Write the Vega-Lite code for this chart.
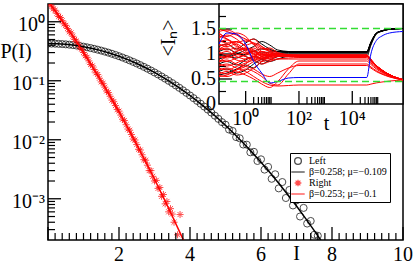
{
"$schema": "https://vega.github.io/schema/vega-lite/v6.json",
"width": 355, "height": 236,
"autosize": {"type": "none"},
"padding": {"left": 48, "top": 4, "right": 12, "bottom": 23},
"config": {"font": "Liberation Serif", "view": {"stroke": "black", "strokeWidth": 1.5}, "axis": {"grid": false, "domain": false}},
"datasets": {
"xM": [{"v":0},{"v":2},{"v":4},{"v":6},{"v":8},{"v":10}],
"xm": [{"v":0.2},{"v":0.4},{"v":0.6},{"v":0.8},{"v":1},{"v":1.2},{"v":1.4},{"v":1.6},{"v":1.8},{"v":2.2},{"v":2.4},{"v":2.6},{"v":2.8},{"v":3},{"v":3.2},{"v":3.4},{"v":3.6},{"v":3.8},{"v":4.2},{"v":4.4},{"v":4.6},{"v":4.8},{"v":5},{"v":5.2},{"v":5.4},{"v":5.6},{"v":5.8},{"v":6.2},{"v":6.4},{"v":6.6},{"v":6.8},{"v":7},{"v":7.2},{"v":7.4},{"v":7.6},{"v":7.8},{"v":8.2},{"v":8.4},{"v":8.6},{"v":8.8},{"v":9},{"v":9.2},{"v":9.4},{"v":9.6},{"v":9.8}],
"yM": [{"v":0.001},{"v":0.01},{"v":0.1},{"v":1}],
"ym": [{"v":0.0003},{"v":0.0004},{"v":0.0005},{"v":0.0006},{"v":0.0007},{"v":0.0008},{"v":0.0009},{"v":0.002},{"v":0.003},{"v":0.004},{"v":0.005},{"v":0.006},{"v":0.007},{"v":0.008},{"v":0.009},{"v":0.02},{"v":0.03},{"v":0.04},{"v":0.05},{"v":0.06},{"v":0.07},{"v":0.08},{"v":0.09},{"v":0.2},{"v":0.3},{"v":0.4},{"v":0.5},{"v":0.6},{"v":0.7},{"v":0.8},{"v":0.9}],
"xl": [{"v":2,"l":"2"},{"v":4,"l":"4"},{"v":6,"l":"6"},{"v":8,"l":"8"},{"v":10,"l":"10"}],
"yl": [{"v":1,"l":"10⁰"},{"v":0.1,"l":"10⁻¹"},{"v":0.01,"l":"10⁻²"},{"v":0.001,"l":"10⁻³"}],
"tM": [{"v":1},{"v":100},{"v":10000}],
"tm": [{"v":2},{"v":3},{"v":4},{"v":5},{"v":6},{"v":7},{"v":8},{"v":9},{"v":200},{"v":300},{"v":400},{"v":500},{"v":600},{"v":700},{"v":800},{"v":900},{"v":20000},{"v":30000},{"v":40000},{"v":50000},{"v":60000},{"v":70000},{"v":80000},{"v":90000}],
"vM": [{"v":0.5},{"v":1},{"v":1.5}],
"vm": [{"v":0.25},{"v":0.75},{"v":1.25},{"v":1.75}],
"tl": [{"v":1,"l":"10⁰"},{"v":100,"l":"10²"},{"v":10000,"l":"10⁴"}],
"vl": [{"v":0,"l":"0"},{"v":0.5,"l":"0.5"},{"v":1,"l":"1"},{"v":1.5,"l":"1.5"}],
"pts": [
{"s":"Left","I":0,"P":0.4266},{"s":"Left","I":0.1,"P":0.4261},{"s":"Left","I":0.2,"P":0.4247},{"s":"Left","I":0.3,"P":0.4222},{"s":"Left","I":0.4,"P":0.4188},{"s":"Left","I":0.5,"P":0.4143},{"s":"Left","I":0.6,"P":0.409},{"s":"Left","I":0.7,"P":0.4026},{"s":"Left","I":0.8,"P":0.3954},{"s":"Left","I":0.9,"P":0.3873},{"s":"Left","I":1,"P":0.3785},{"s":"Left","I":1.1,"P":0.3688},{"s":"Left","I":1.2,"P":0.3586},{"s":"Left","I":1.3,"P":0.3477},{"s":"Left","I":1.4,"P":0.3363},{"s":"Left","I":1.5,"P":0.3244},{"s":"Left","I":1.6,"P":0.3121},{"s":"Left","I":1.7,"P":0.2996},{"s":"Left","I":1.8,"P":0.2868},{"s":"Left","I":1.9,"P":0.2738},{"s":"Left","I":2,"P":0.2607},{"s":"Left","I":2.1,"P":0.2476},{"s":"Left","I":2.2,"P":0.2346},{"s":"Left","I":2.3,"P":0.2216},{"s":"Left","I":2.4,"P":0.2088},{"s":"Left","I":2.5,"P":0.1963},{"s":"Left","I":2.6,"P":0.184},{"s":"Left","I":2.7,"P":0.172},{"s":"Left","I":2.8,"P":0.1604},{"s":"Left","I":2.9,"P":0.1492},{"s":"Left","I":3,"P":0.1384},{"s":"Left","I":3.1,"P":0.128},{"s":"Left","I":3.2,"P":0.1181},{"s":"Left","I":3.3,"P":0.1087},{"s":"Left","I":3.4,"P":0.0997},{"s":"Left","I":3.5,"P":0.0913},{"s":"Left","I":3.6,"P":0.0833},{"s":"Left","I":3.7,"P":0.0759},{"s":"Left","I":3.8,"P":0.0689},{"s":"Left","I":3.9,"P":0.0624},{"s":"Left","I":4,"P":0.0563},{"s":"Left","I":4.1,"P":0.0507},{"s":"Left","I":4.2,"P":0.0456},{"s":"Left","I":4.3,"P":0.0408},{"s":"Left","I":4.4,"P":0.0365},{"s":"Left","I":4.5,"P":0.0325},{"s":"Left","I":4.6,"P":0.0289},{"s":"Left","I":4.7,"P":0.0256},{"s":"Left","I":4.8,"P":0.0226},{"s":"Left","I":4.9,"P":0.0199},{"s":"Left","I":5,"P":0.018},{"s":"Left","I":5.1,"P":0.0149},{"s":"Left","I":5.2,"P":0.0141},{"s":"Left","I":5.3,"P":0.0111},{"s":"Left","I":5.4,"P":0.01059},{"s":"Left","I":5.5,"P":0.0083},{"s":"Left","I":5.6,"P":0.00825},{"s":"Left","I":5.7,"P":0.00613},{"s":"Left","I":5.8,"P":0.00624},{"s":"Left","I":5.9,"P":0.00437},{"s":"Left","I":6,"P":0.00466},{"s":"Left","I":6.1,"P":0.00312},{"s":"Left","I":6.2,"P":0.00347},{"s":"Left","I":6.3,"P":0.00218},{"s":"Left","I":6.4,"P":0.0026},{"s":"Left","I":6.5,"P":0.0015},{"s":"Left","I":6.6,"P":0.00192},{"s":"Left","I":6.7,"P":0.00103},{"s":"Left","I":6.8,"P":0.00141},{"s":"Left","I":6.9,"P":0.00077},{"s":"Left","I":7,"P":0.00094},{"s":"Left","I":7.1,"P":0.0005},{"s":"Left","I":7.2,"P":0.0007},{"s":"Left","I":7.3,"P":0.00038},{"s":"Left","I":7.4,"P":0.00042},{"s":"Left","I":7.5,"P":0.000245},{"s":"Left","I":7.6,"P":0.000236},
{"s":"Right","I":0.05,"P":2.034},{"s":"Right","I":0.1,"P":1.852},{"s":"Right","I":0.15,"P":1.652},{"s":"Right","I":0.2,"P":1.564},{"s":"Right","I":0.25,"P":1.393},{"s":"Right","I":0.3,"P":1.227},{"s":"Right","I":0.35,"P":1.181},{"s":"Right","I":0.4,"P":1.04},{"s":"Right","I":0.45,"P":0.923},{"s":"Right","I":0.5,"P":0.869},{"s":"Right","I":0.55,"P":0.771},{"s":"Right","I":0.6,"P":0.676},{"s":"Right","I":0.65,"P":0.648},{"s":"Right","I":0.7,"P":0.568},{"s":"Right","I":0.75,"P":0.502},{"s":"Right","I":0.8,"P":0.47},{"s":"Right","I":0.85,"P":0.415},{"s":"Right","I":0.9,"P":0.362},{"s":"Right","I":0.95,"P":0.3455},{"s":"Right","I":1,"P":0.3012},{"s":"Right","I":1.05,"P":0.2649},{"s":"Right","I":1.1,"P":0.2497},{"s":"Right","I":1.15,"P":0.2172},{"s":"Right","I":1.2,"P":0.1885},{"s":"Right","I":1.25,"P":0.179},{"s":"Right","I":1.3,"P":0.1553},{"s":"Right","I":1.35,"P":0.136},{"s":"Right","I":1.4,"P":0.1275},{"s":"Right","I":1.45,"P":0.1104},{"s":"Right","I":1.5,"P":0.0954},{"s":"Right","I":1.55,"P":0.0902},{"s":"Right","I":1.6,"P":0.0779},{"s":"Right","I":1.65,"P":0.0671},{"s":"Right","I":1.7,"P":0.0633},{"s":"Right","I":1.75,"P":0.0546},{"s":"Right","I":1.8,"P":0.047},{"s":"Right","I":1.85,"P":0.0442},{"s":"Right","I":1.9,"P":0.038},{"s":"Right","I":1.95,"P":0.0326},{"s":"Right","I":2,"P":0.0306},{"s":"Right","I":2.05,"P":0.0262},{"s":"Right","I":2.1,"P":0.0223},{"s":"Right","I":2.15,"P":0.0212},{"s":"Right","I":2.2,"P":0.018},{"s":"Right","I":2.25,"P":0.0152},{"s":"Right","I":2.3,"P":0.0145},{"s":"Right","I":2.35,"P":0.01226},{"s":"Right","I":2.4,"P":0.0103},{"s":"Right","I":2.45,"P":0.0099},{"s":"Right","I":2.5,"P":0.00829},{"s":"Right","I":2.55,"P":0.0069},{"s":"Right","I":2.6,"P":0.0067},{"s":"Right","I":2.65,"P":0.00557},{"s":"Right","I":2.7,"P":0.0046},{"s":"Right","I":2.75,"P":0.0045},{"s":"Right","I":2.8,"P":0.00371},{"s":"Right","I":2.85,"P":0.003},{"s":"Right","I":2.9,"P":0.003},{"s":"Right","I":2.95,"P":0.0024},{"s":"Right","I":3,"P":0.002},{"s":"Right","I":3.05,"P":0.00205},{"s":"Right","I":3.1,"P":0.0015},{"s":"Right","I":3.15,"P":0.00155},{"s":"Right","I":3.2,"P":0.0011},{"s":"Right","I":3.25,"P":0.00118},{"s":"Right","I":3.3,"P":0.00082},{"s":"Right","I":3.35,"P":0.0009},{"s":"Right","I":3.4,"P":0.0006},{"s":"Right","I":3.45,"P":0.00068},{"s":"Right","I":3.5,"P":0.00055},{"s":"Right","I":3.55,"P":0.0004},{"s":"Right","I":3.65,"P":0.000245},{"s":"Right","I":3.72,"P":0.00054}
],
"fits": [
{"s":"β=0.258; μ=−0.109","I":0,"P":0.4266},{"s":"β=0.258; μ=−0.109","I":0.25,"P":0.4236},{"s":"β=0.258; μ=−0.109","I":0.5,"P":0.4143},{"s":"β=0.258; μ=−0.109","I":0.75,"P":0.3992},{"s":"β=0.258; μ=−0.109","I":1,"P":0.3785},{"s":"β=0.258; μ=−0.109","I":1.25,"P":0.3532},{"s":"β=0.258; μ=−0.109","I":1.5,"P":0.3244},{"s":"β=0.258; μ=−0.109","I":1.75,"P":0.2932},{"s":"β=0.258; μ=−0.109","I":2,"P":0.2607},{"s":"β=0.258; μ=−0.109","I":2.25,"P":0.2281},{"s":"β=0.258; μ=−0.109","I":2.5,"P":0.1963},{"s":"β=0.258; μ=−0.109","I":2.75,"P":0.1662},{"s":"β=0.258; μ=−0.109","I":3,"P":0.1384},{"s":"β=0.258; μ=−0.109","I":3.25,"P":0.1133},{"s":"β=0.258; μ=−0.109","I":3.5,"P":0.0913},{"s":"β=0.258; μ=−0.109","I":3.75,"P":0.0723},{"s":"β=0.258; μ=−0.109","I":4,"P":0.0563},{"s":"β=0.258; μ=−0.109","I":4.25,"P":0.04313},{"s":"β=0.258; μ=−0.109","I":4.5,"P":0.0325},{"s":"β=0.258; μ=−0.109","I":4.75,"P":0.02406},{"s":"β=0.258; μ=−0.109","I":5,"P":0.01752},{"s":"β=0.258; μ=−0.109","I":5.25,"P":0.01255},{"s":"β=0.258; μ=−0.109","I":5.5,"P":0.00883},{"s":"β=0.258; μ=−0.109","I":5.75,"P":0.00611},{"s":"β=0.258; μ=−0.109","I":6,"P":0.00416},{"s":"β=0.258; μ=−0.109","I":6.25,"P":0.002782},{"s":"β=0.258; μ=−0.109","I":6.5,"P":0.00183},{"s":"β=0.258; μ=−0.109","I":6.75,"P":0.001182},{"s":"β=0.258; μ=−0.109","I":7,"P":0.000752},{"s":"β=0.258; μ=−0.109","I":7.25,"P":0.000469},{"s":"β=0.258; μ=−0.109","I":7.5,"P":0.000288},{"s":"β=0.258; μ=−0.109","I":7.75,"P":0.000174},
{"s":"β=0.253; μ=−0.1","I":0,"P":2.232},{"s":"β=0.253; μ=−0.1","I":0.25,"P":1.393},{"s":"β=0.253; μ=−0.1","I":0.5,"P":0.852},{"s":"β=0.253; μ=−0.1","I":0.75,"P":0.512},{"s":"β=0.253; μ=−0.1","I":1,"P":0.3012},{"s":"β=0.253; μ=−0.1","I":1.25,"P":0.1738},{"s":"β=0.253; μ=−0.1","I":1.5,"P":0.0983},{"s":"β=0.253; μ=−0.1","I":1.75,"P":0.0546},{"s":"β=0.253; μ=−0.1","I":2,"P":0.0297},{"s":"β=0.253; μ=−0.1","I":2.25,"P":0.01585},{"s":"β=0.253; μ=−0.1","I":2.5,"P":0.00829},{"s":"β=0.253; μ=−0.1","I":2.75,"P":0.00425},{"s":"β=0.253; μ=−0.1","I":3,"P":0.00214},{"s":"β=0.253; μ=−0.1","I":3.25,"P":0.001055},{"s":"β=0.253; μ=−0.1","I":3.5,"P":0.00051},{"s":"β=0.253; μ=−0.1","I":3.75,"P":0.000242},{"s":"β=0.253; μ=−0.1","I":3.85,"P":0.000179}
],
"grn": [{"v":1.51},{"v":0.45}],
"blu": [
{"i":"u1","t":0.1,"v":1.2},{"i":"u1","t":0.2,"v":1.42},{"i":"u1","t":0.45,"v":1.4},{"i":"u1","t":1,"v":1.2},{"i":"u1","t":2,"v":0.85},{"i":"u1","t":4,"v":0.62},{"i":"u1","t":8,"v":0.42},{"i":"u1","t":16,"v":0.45},{"i":"u1","t":40,"v":0.52},{"i":"u1","t":100,"v":0.53},{"i":"u1","t":35000,"v":0.53},{"i":"u1","t":50000,"v":1.0},{"i":"u1","t":80000,"v":1.27},{"i":"u1","t":130000,"v":1.36},{"i":"u1","t":250000,"v":1.42},{"i":"u1","t":790000,"v":1.45}
],
"blk": [
{"i":"b1","t":0.1,"v":1.05},{"i":"b1","t":0.2,"v":1.1},{"i":"b1","t":0.45,"v":1.02},{"i":"b1","t":1,"v":0.98},{"i":"b1","t":2,"v":1.05},{"i":"b1","t":4,"v":1.02},{"i":"b1","t":8,"v":1.04},{"i":"b1","t":16,"v":1.05},{"i":"b1","t":40,"v":1.05},{"i":"b1","t":100,"v":1.05},{"i":"b1","t":35000,"v":1.05},{"i":"b1","t":50000,"v":1.234},{"i":"b1","t":80000,"v":1.418},{"i":"b1","t":130000,"v":1.464},{"i":"b1","t":250000,"v":1.496},{"i":"b1","t":790000,"v":1.51},
{"i":"b2","t":0.1,"v":0.98},{"i":"b2","t":0.2,"v":0.95},{"i":"b2","t":0.45,"v":1.0},{"i":"b2","t":1,"v":1.08},{"i":"b2","t":2,"v":1.15},{"i":"b2","t":4,"v":1.25},{"i":"b2","t":8,"v":1.18},{"i":"b2","t":16,"v":1.08},{"i":"b2","t":40,"v":1.05},{"i":"b2","t":100,"v":1.04},{"i":"b2","t":35000,"v":1.04},{"i":"b2","t":50000,"v":1.228},{"i":"b2","t":80000,"v":1.416},{"i":"b2","t":130000,"v":1.463},{"i":"b2","t":250000,"v":1.496},{"i":"b2","t":790000,"v":1.51},
{"i":"b3","t":0.1,"v":0.65},{"i":"b3","t":0.2,"v":0.7},{"i":"b3","t":0.45,"v":0.62},{"i":"b3","t":1,"v":0.68},{"i":"b3","t":2,"v":0.8},{"i":"b3","t":4,"v":0.9},{"i":"b3","t":8,"v":0.98},{"i":"b3","t":16,"v":1.02},{"i":"b3","t":40,"v":1.03},{"i":"b3","t":100,"v":1.03},{"i":"b3","t":35000,"v":1.03},{"i":"b3","t":50000,"v":1.222},{"i":"b3","t":80000,"v":1.414},{"i":"b3","t":130000,"v":1.462},{"i":"b3","t":250000,"v":1.496},{"i":"b3","t":790000,"v":1.51},
{"i":"b4","t":0.1,"v":0.58},{"i":"b4","t":0.2,"v":0.62},{"i":"b4","t":0.45,"v":0.7},{"i":"b4","t":1,"v":0.78},{"i":"b4","t":2,"v":0.72},{"i":"b4","t":4,"v":0.85},{"i":"b4","t":8,"v":0.95},{"i":"b4","t":16,"v":1.0},{"i":"b4","t":40,"v":1.02},{"i":"b4","t":100,"v":1.02},{"i":"b4","t":35000,"v":1.02},{"i":"b4","t":50000,"v":1.216},{"i":"b4","t":80000,"v":1.412},{"i":"b4","t":130000,"v":1.461},{"i":"b4","t":250000,"v":1.495},{"i":"b4","t":790000,"v":1.51},
{"i":"b5","t":0.1,"v":1.15},{"i":"b5","t":0.2,"v":1.2},{"i":"b5","t":0.45,"v":1.1},{"i":"b5","t":1,"v":1.22},{"i":"b5","t":2,"v":1.3},{"i":"b5","t":4,"v":1.2},{"i":"b5","t":8,"v":1.1},{"i":"b5","t":16,"v":1.05},{"i":"b5","t":40,"v":1.04},{"i":"b5","t":100,"v":1.04},{"i":"b5","t":35000,"v":1.04},{"i":"b5","t":50000,"v":1.228},{"i":"b5","t":80000,"v":1.416},{"i":"b5","t":130000,"v":1.463},{"i":"b5","t":250000,"v":1.496},{"i":"b5","t":790000,"v":1.51},
{"i":"b6","t":0.1,"v":0.8},{"i":"b6","t":0.2,"v":0.85},{"i":"b6","t":0.45,"v":0.78},{"i":"b6","t":1,"v":0.88},{"i":"b6","t":2,"v":0.95},{"i":"b6","t":4,"v":0.9},{"i":"b6","t":8,"v":0.85},{"i":"b6","t":16,"v":0.9},{"i":"b6","t":40,"v":0.95},{"i":"b6","t":100,"v":0.95},{"i":"b6","t":35000,"v":0.95},{"i":"b6","t":50000,"v":1.174},{"i":"b6","t":80000,"v":1.398},{"i":"b6","t":130000,"v":1.454},{"i":"b6","t":250000,"v":1.493},{"i":"b6","t":790000,"v":1.51},
{"i":"b7","t":0.1,"v":0.9},{"i":"b7","t":0.2,"v":0.95},{"i":"b7","t":0.45,"v":1.02},{"i":"b7","t":1,"v":0.95},{"i":"b7","t":2,"v":0.88},{"i":"b7","t":4,"v":0.8},{"i":"b7","t":8,"v":0.88},{"i":"b7","t":16,"v":0.95},{"i":"b7","t":40,"v":1.0},{"i":"b7","t":100,"v":1.0},{"i":"b7","t":35000,"v":1.0},{"i":"b7","t":50000,"v":1.204},{"i":"b7","t":80000,"v":1.408},{"i":"b7","t":130000,"v":1.459},{"i":"b7","t":250000,"v":1.495},{"i":"b7","t":790000,"v":1.51},
{"i":"b8","t":0.1,"v":1.0},{"i":"b8","t":0.2,"v":0.96},{"i":"b8","t":0.45,"v":0.92},{"i":"b8","t":1,"v":1.0},{"i":"b8","t":2,"v":1.06},{"i":"b8","t":4,"v":1.1},{"i":"b8","t":8,"v":1.08},{"i":"b8","t":16,"v":1.05},{"i":"b8","t":40,"v":1.05},{"i":"b8","t":100,"v":1.05},{"i":"b8","t":35000,"v":1.05},{"i":"b8","t":50000,"v":1.234},{"i":"b8","t":80000,"v":1.418},{"i":"b8","t":130000,"v":1.464},{"i":"b8","t":250000,"v":1.496},{"i":"b8","t":790000,"v":1.51}
],
"red": [
{"i":"r1","t":0.1,"v":1.5},{"i":"r1","t":0.2,"v":1.45},{"i":"r1","t":0.45,"v":1.38},{"i":"r1","t":1,"v":1.3},{"i":"r1","t":2,"v":1.22},{"i":"r1","t":4,"v":1.12},{"i":"r1","t":8,"v":1.05},{"i":"r1","t":16,"v":1.0},{"i":"r1","t":40,"v":0.98},{"i":"r1","t":100,"v":0.97},{"i":"r1","t":35000,"v":0.97},{"i":"r1","t":50000,"v":0.882},{"i":"r1","t":80000,"v":0.764},{"i":"r1","t":130000,"v":0.676},{"i":"r1","t":250000,"v":0.583},{"i":"r1","t":790000,"v":0.485},
{"i":"r2","t":0.1,"v":1.45},{"i":"r2","t":0.2,"v":1.48},{"i":"r2","t":0.45,"v":1.4},{"i":"r2","t":1,"v":1.25},{"i":"r2","t":2,"v":1.3},{"i":"r2","t":4,"v":1.15},{"i":"r2","t":8,"v":1.08},{"i":"r2","t":16,"v":1.02},{"i":"r2","t":40,"v":0.98},{"i":"r2","t":100,"v":0.97},{"i":"r2","t":35000,"v":0.97},{"i":"r2","t":50000,"v":0.882},{"i":"r2","t":80000,"v":0.764},{"i":"r2","t":130000,"v":0.676},{"i":"r2","t":250000,"v":0.583},{"i":"r2","t":790000,"v":0.485},
{"i":"r3","t":0.1,"v":1.4},{"i":"r3","t":0.2,"v":1.35},{"i":"r3","t":0.45,"v":1.42},{"i":"r3","t":1,"v":1.35},{"i":"r3","t":2,"v":1.18},{"i":"r3","t":4,"v":1.05},{"i":"r3","t":8,"v":0.98},{"i":"r3","t":16,"v":0.99},{"i":"r3","t":40,"v":0.97},{"i":"r3","t":100,"v":0.97},{"i":"r3","t":35000,"v":0.97},{"i":"r3","t":50000,"v":0.882},{"i":"r3","t":80000,"v":0.764},{"i":"r3","t":130000,"v":0.676},{"i":"r3","t":250000,"v":0.583},{"i":"r3","t":790000,"v":0.485},
{"i":"r4","t":0.1,"v":1.36},{"i":"r4","t":0.2,"v":1.3},{"i":"r4","t":0.45,"v":1.22},{"i":"r4","t":1,"v":1.28},{"i":"r4","t":2,"v":1.2},{"i":"r4","t":4,"v":1.1},{"i":"r4","t":8,"v":1.12},{"i":"r4","t":16,"v":1.03},{"i":"r4","t":40,"v":0.99},{"i":"r4","t":100,"v":0.98},{"i":"r4","t":35000,"v":0.98},{"i":"r4","t":50000,"v":0.89},{"i":"r4","t":80000,"v":0.77},{"i":"r4","t":130000,"v":0.68},{"i":"r4","t":250000,"v":0.585},{"i":"r4","t":790000,"v":0.485},
{"i":"r5","t":0.1,"v":1.32},{"i":"r5","t":0.2,"v":1.38},{"i":"r5","t":0.45,"v":1.3},{"i":"r5","t":1,"v":1.15},{"i":"r5","t":2,"v":1.05},{"i":"r5","t":4,"v":0.95},{"i":"r5","t":8,"v":0.92},{"i":"r5","t":16,"v":0.95},{"i":"r5","t":40,"v":0.96},{"i":"r5","t":100,"v":0.96},{"i":"r5","t":35000,"v":0.96},{"i":"r5","t":50000,"v":0.874},{"i":"r5","t":80000,"v":0.758},{"i":"r5","t":130000,"v":0.672},{"i":"r5","t":250000,"v":0.581},{"i":"r5","t":790000,"v":0.485},
{"i":"r6","t":0.1,"v":1.28},{"i":"r6","t":0.2,"v":1.22},{"i":"r6","t":0.45,"v":1.25},{"i":"r6","t":1,"v":1.18},{"i":"r6","t":2,"v":1.22},{"i":"r6","t":4,"v":1.15},{"i":"r6","t":8,"v":1.05},{"i":"r6","t":16,"v":1.0},{"i":"r6","t":40,"v":0.98},{"i":"r6","t":100,"v":0.98},{"i":"r6","t":35000,"v":0.98},{"i":"r6","t":50000,"v":0.89},{"i":"r6","t":80000,"v":0.77},{"i":"r6","t":130000,"v":0.68},{"i":"r6","t":250000,"v":0.585},{"i":"r6","t":790000,"v":0.485},
{"i":"r7","t":0.1,"v":1.24},{"i":"r7","t":0.2,"v":1.28},{"i":"r7","t":0.45,"v":1.15},{"i":"r7","t":1,"v":1.08},{"i":"r7","t":2,"v":1.0},{"i":"r7","t":4,"v":0.9},{"i":"r7","t":8,"v":0.95},{"i":"r7","t":16,"v":0.98},{"i":"r7","t":40,"v":0.97},{"i":"r7","t":100,"v":0.97},{"i":"r7","t":35000,"v":0.97},{"i":"r7","t":50000,"v":0.882},{"i":"r7","t":80000,"v":0.764},{"i":"r7","t":130000,"v":0.676},{"i":"r7","t":250000,"v":0.583},{"i":"r7","t":790000,"v":0.485},
{"i":"r8","t":0.1,"v":1.2},{"i":"r8","t":0.2,"v":1.15},{"i":"r8","t":0.45,"v":1.2},{"i":"r8","t":1,"v":1.1},{"i":"r8","t":2,"v":1.12},{"i":"r8","t":4,"v":1.02},{"i":"r8","t":8,"v":0.96},{"i":"r8","t":16,"v":0.97},{"i":"r8","t":40,"v":0.96},{"i":"r8","t":100,"v":0.95},{"i":"r8","t":35000,"v":0.95},{"i":"r8","t":50000,"v":0.865},{"i":"r8","t":80000,"v":0.753},{"i":"r8","t":130000,"v":0.668},{"i":"r8","t":250000,"v":0.579},{"i":"r8","t":790000,"v":0.485},
{"i":"r9","t":0.1,"v":1.16},{"i":"r9","t":0.2,"v":1.2},{"i":"r9","t":0.45,"v":1.08},{"i":"r9","t":1,"v":1.12},{"i":"r9","t":2,"v":0.98},{"i":"r9","t":4,"v":1.05},{"i":"r9","t":8,"v":1.0},{"i":"r9","t":16,"v":0.98},{"i":"r9","t":40,"v":0.97},{"i":"r9","t":100,"v":0.97},{"i":"r9","t":35000,"v":0.97},{"i":"r9","t":50000,"v":0.882},{"i":"r9","t":80000,"v":0.764},{"i":"r9","t":130000,"v":0.676},{"i":"r9","t":250000,"v":0.583},{"i":"r9","t":790000,"v":0.485},
{"i":"r10","t":0.1,"v":1.12},{"i":"r10","t":0.2,"v":1.08},{"i":"r10","t":0.45,"v":1.12},{"i":"r10","t":1,"v":1.02},{"i":"r10","t":2,"v":1.08},{"i":"r10","t":4,"v":0.95},{"i":"r10","t":8,"v":0.98},{"i":"r10","t":16,"v":0.97},{"i":"r10","t":40,"v":0.96},{"i":"r10","t":100,"v":0.96},{"i":"r10","t":35000,"v":0.96},{"i":"r10","t":50000,"v":0.874},{"i":"r10","t":80000,"v":0.758},{"i":"r10","t":130000,"v":0.672},{"i":"r10","t":250000,"v":0.581},{"i":"r10","t":790000,"v":0.485},
{"i":"r11","t":0.1,"v":1.08},{"i":"r11","t":0.2,"v":1.12},{"i":"r11","t":0.45,"v":1.0},{"i":"r11","t":1,"v":0.95},{"i":"r11","t":2,"v":0.88},{"i":"r11","t":4,"v":0.8},{"i":"r11","t":8,"v":0.85},{"i":"r11","t":16,"v":0.9},{"i":"r11","t":40,"v":0.92},{"i":"r11","t":100,"v":0.93},{"i":"r11","t":35000,"v":0.93},{"i":"r11","t":50000,"v":0.849},{"i":"r11","t":80000,"v":0.741},{"i":"r11","t":130000,"v":0.66},{"i":"r11","t":250000,"v":0.575},{"i":"r11","t":790000,"v":0.485},
{"i":"r12","t":0.1,"v":1.04},{"i":"r12","t":0.2,"v":0.98},{"i":"r12","t":0.45,"v":1.05},{"i":"r12","t":1,"v":1.1},{"i":"r12","t":2,"v":1.0},{"i":"r12","t":4,"v":0.92},{"i":"r12","t":8,"v":0.95},{"i":"r12","t":16,"v":0.97},{"i":"r12","t":40,"v":0.97},{"i":"r12","t":100,"v":0.97},{"i":"r12","t":35000,"v":0.97},{"i":"r12","t":50000,"v":0.882},{"i":"r12","t":80000,"v":0.764},{"i":"r12","t":130000,"v":0.676},{"i":"r12","t":250000,"v":0.583},{"i":"r12","t":790000,"v":0.485},
{"i":"r13","t":0.1,"v":1.0},{"i":"r13","t":0.2,"v":1.05},{"i":"r13","t":0.45,"v":0.95},{"i":"r13","t":1,"v":0.9},{"i":"r13","t":2,"v":0.95},{"i":"r13","t":4,"v":1.05},{"i":"r13","t":8,"v":1.02},{"i":"r13","t":16,"v":0.98},{"i":"r13","t":40,"v":0.97},{"i":"r13","t":100,"v":0.97},{"i":"r13","t":35000,"v":0.97},{"i":"r13","t":50000,"v":0.882},{"i":"r13","t":80000,"v":0.764},{"i":"r13","t":130000,"v":0.676},{"i":"r13","t":250000,"v":0.583},{"i":"r13","t":790000,"v":0.485},
{"i":"r14","t":0.1,"v":0.96},{"i":"r14","t":0.2,"v":0.92},{"i":"r14","t":0.45,"v":0.98},{"i":"r14","t":1,"v":1.02},{"i":"r14","t":2,"v":0.92},{"i":"r14","t":4,"v":0.85},{"i":"r14","t":8,"v":0.88},{"i":"r14","t":16,"v":0.9},{"i":"r14","t":40,"v":0.9},{"i":"r14","t":100,"v":0.9},{"i":"r14","t":35000,"v":0.9},{"i":"r14","t":50000,"v":0.824},{"i":"r14","t":80000,"v":0.724},{"i":"r14","t":130000,"v":0.648},{"i":"r14","t":250000,"v":0.568},{"i":"r14","t":790000,"v":0.484},
{"i":"r15","t":0.1,"v":0.92},{"i":"r15","t":0.2,"v":0.96},{"i":"r15","t":0.45,"v":0.88},{"i":"r15","t":1,"v":0.85},{"i":"r15","t":2,"v":0.95},{"i":"r15","t":4,"v":1.0},{"i":"r15","t":8,"v":0.97},{"i":"r15","t":16,"v":0.96},{"i":"r15","t":40,"v":0.96},{"i":"r15","t":100,"v":0.96},{"i":"r15","t":35000,"v":0.96},{"i":"r15","t":50000,"v":0.874},{"i":"r15","t":80000,"v":0.758},{"i":"r15","t":130000,"v":0.672},{"i":"r15","t":250000,"v":0.581},{"i":"r15","t":790000,"v":0.485},
{"i":"r16","t":0.1,"v":0.88},{"i":"r16","t":0.2,"v":0.85},{"i":"r16","t":0.45,"v":0.92},{"i":"r16","t":1,"v":0.98},{"i":"r16","t":2,"v":1.05},{"i":"r16","t":4,"v":0.98},{"i":"r16","t":8,"v":0.96},{"i":"r16","t":16,"v":0.97},{"i":"r16","t":40,"v":0.97},{"i":"r16","t":100,"v":0.97},{"i":"r16","t":35000,"v":0.97},{"i":"r16","t":50000,"v":0.882},{"i":"r16","t":80000,"v":0.764},{"i":"r16","t":130000,"v":0.676},{"i":"r16","t":250000,"v":0.583},{"i":"r16","t":790000,"v":0.485},
{"i":"r17","t":0.1,"v":0.84},{"i":"r17","t":0.2,"v":0.88},{"i":"r17","t":0.45,"v":0.8},{"i":"r17","t":1,"v":0.75},{"i":"r17","t":2,"v":0.7},{"i":"r17","t":4,"v":0.6},{"i":"r17","t":8,"v":0.55},{"i":"r17","t":16,"v":0.62},{"i":"r17","t":40,"v":0.72},{"i":"r17","t":100,"v":0.77},{"i":"r17","t":35000,"v":0.77},{"i":"r17","t":50000,"v":0.718},{"i":"r17","t":80000,"v":0.648},{"i":"r17","t":130000,"v":0.596},{"i":"r17","t":250000,"v":0.541},{"i":"r17","t":790000,"v":0.483},
{"i":"r18","t":0.1,"v":0.8},{"i":"r18","t":0.2,"v":0.76},{"i":"r18","t":0.45,"v":0.82},{"i":"r18","t":1,"v":0.9},{"i":"r18","t":2,"v":0.95},{"i":"r18","t":4,"v":0.92},{"i":"r18","t":8,"v":0.97},{"i":"r18","t":16,"v":0.98},{"i":"r18","t":40,"v":0.97},{"i":"r18","t":100,"v":0.97},{"i":"r18","t":35000,"v":0.97},{"i":"r18","t":50000,"v":0.882},{"i":"r18","t":80000,"v":0.764},{"i":"r18","t":130000,"v":0.676},{"i":"r18","t":250000,"v":0.583},{"i":"r18","t":790000,"v":0.485},
{"i":"r19","t":0.1,"v":0.76},{"i":"r19","t":0.2,"v":0.8},{"i":"r19","t":0.45,"v":0.72},{"i":"r19","t":1,"v":0.65},{"i":"r19","t":2,"v":0.55},{"i":"r19","t":4,"v":0.45},{"i":"r19","t":8,"v":0.38},{"i":"r19","t":16,"v":0.36},{"i":"r19","t":40,"v":0.37},{"i":"r19","t":100,"v":0.38},{"i":"r19","t":35000,"v":0.38},{"i":"r19","t":50000,"v":0.398},{"i":"r19","t":80000,"v":0.422},{"i":"r19","t":130000,"v":0.44},{"i":"r19","t":250000,"v":0.459},{"i":"r19","t":790000,"v":0.479},
{"i":"r20","t":0.1,"v":0.72},{"i":"r20","t":0.2,"v":0.68},{"i":"r20","t":0.45,"v":0.75},{"i":"r20","t":1,"v":0.82},{"i":"r20","t":2,"v":0.88},{"i":"r20","t":4,"v":0.95},{"i":"r20","t":8,"v":0.98},{"i":"r20","t":16,"v":0.97},{"i":"r20","t":40,"v":0.96},{"i":"r20","t":100,"v":0.96},{"i":"r20","t":35000,"v":0.96},{"i":"r20","t":50000,"v":0.874},{"i":"r20","t":80000,"v":0.758},{"i":"r20","t":130000,"v":0.672},{"i":"r20","t":250000,"v":0.581},{"i":"r20","t":790000,"v":0.485},
{"i":"r21","t":0.1,"v":0.68},{"i":"r21","t":0.2,"v":0.72},{"i":"r21","t":0.45,"v":0.65},{"i":"r21","t":1,"v":0.58},{"i":"r21","t":2,"v":0.5},{"i":"r21","t":4,"v":0.4},{"i":"r21","t":8,"v":0.33},{"i":"r21","t":16,"v":0.45},{"i":"r21","t":40,"v":0.7},{"i":"r21","t":100,"v":0.86},{"i":"r21","t":35000,"v":0.86},{"i":"r21","t":50000,"v":0.792},{"i":"r21","t":80000,"v":0.7},{"i":"r21","t":130000,"v":0.632},{"i":"r21","t":250000,"v":0.56},{"i":"r21","t":790000,"v":0.484},
{"i":"r22","t":0.1,"v":0.64},{"i":"r22","t":0.2,"v":0.6},{"i":"r22","t":0.45,"v":0.68},{"i":"r22","t":1,"v":0.75},{"i":"r22","t":2,"v":0.85},{"i":"r22","t":4,"v":0.92},{"i":"r22","t":8,"v":0.9},{"i":"r22","t":16,"v":0.95},{"i":"r22","t":40,"v":0.97},{"i":"r22","t":100,"v":0.97},{"i":"r22","t":35000,"v":0.97},{"i":"r22","t":50000,"v":0.882},{"i":"r22","t":80000,"v":0.764},{"i":"r22","t":130000,"v":0.676},{"i":"r22","t":250000,"v":0.583},{"i":"r22","t":790000,"v":0.485},
{"i":"r23","t":0.1,"v":0.6},{"i":"r23","t":0.2,"v":0.65},{"i":"r23","t":0.45,"v":0.58},{"i":"r23","t":1,"v":0.62},{"i":"r23","t":2,"v":0.72},{"i":"r23","t":4,"v":0.85},{"i":"r23","t":8,"v":0.95},{"i":"r23","t":16,"v":0.98},{"i":"r23","t":40,"v":0.97},{"i":"r23","t":100,"v":0.97},{"i":"r23","t":35000,"v":0.97},{"i":"r23","t":50000,"v":0.882},{"i":"r23","t":80000,"v":0.764},{"i":"r23","t":130000,"v":0.676},{"i":"r23","t":250000,"v":0.583},{"i":"r23","t":790000,"v":0.485},
{"i":"r24","t":0.1,"v":0.57},{"i":"r24","t":0.2,"v":0.55},{"i":"r24","t":0.45,"v":0.62},{"i":"r24","t":1,"v":0.7},{"i":"r24","t":2,"v":0.65},{"i":"r24","t":4,"v":0.55},{"i":"r24","t":8,"v":0.42},{"i":"r24","t":16,"v":0.38},{"i":"r24","t":40,"v":0.6},{"i":"r24","t":100,"v":0.8},{"i":"r24","t":35000,"v":0.8},{"i":"r24","t":50000,"v":0.742},{"i":"r24","t":80000,"v":0.666},{"i":"r24","t":130000,"v":0.608},{"i":"r24","t":250000,"v":0.547},{"i":"r24","t":790000,"v":0.483},
{"i":"r25","t":0.1,"v":0.55},{"i":"r25","t":0.2,"v":0.58},{"i":"r25","t":0.45,"v":0.68},{"i":"r25","t":1,"v":0.8},{"i":"r25","t":2,"v":0.92},{"i":"r25","t":4,"v":0.98},{"i":"r25","t":8,"v":1.02},{"i":"r25","t":16,"v":0.98},{"i":"r25","t":40,"v":0.97},{"i":"r25","t":100,"v":0.97},{"i":"r25","t":35000,"v":0.97},{"i":"r25","t":50000,"v":0.882},{"i":"r25","t":80000,"v":0.764},{"i":"r25","t":130000,"v":0.676},{"i":"r25","t":250000,"v":0.583},{"i":"r25","t":790000,"v":0.485},
{"i":"r26","t":0.1,"v":1.42},{"i":"r26","t":0.2,"v":1.3},{"i":"r26","t":0.45,"v":1.18},{"i":"r26","t":1,"v":1.05},{"i":"r26","t":2,"v":0.95},{"i":"r26","t":4,"v":0.88},{"i":"r26","t":8,"v":0.92},{"i":"r26","t":16,"v":0.96},{"i":"r26","t":40,"v":0.96},{"i":"r26","t":100,"v":0.96},{"i":"r26","t":35000,"v":0.96},{"i":"r26","t":50000,"v":0.874},{"i":"r26","t":80000,"v":0.758},{"i":"r26","t":130000,"v":0.672},{"i":"r26","t":250000,"v":0.581},{"i":"r26","t":790000,"v":0.485},
{"i":"r27","t":0.1,"v":1.1},{"i":"r27","t":0.2,"v":1.18},{"i":"r27","t":0.45,"v":1.25},{"i":"r27","t":1,"v":1.15},{"i":"r27","t":2,"v":1.02},{"i":"r27","t":4,"v":0.98},{"i":"r27","t":8,"v":0.99},{"i":"r27","t":16,"v":0.98},{"i":"r27","t":40,"v":0.98},{"i":"r27","t":100,"v":0.98},{"i":"r27","t":35000,"v":0.98},{"i":"r27","t":50000,"v":0.89},{"i":"r27","t":80000,"v":0.77},{"i":"r27","t":130000,"v":0.68},{"i":"r27","t":250000,"v":0.585},{"i":"r27","t":790000,"v":0.485},
{"i":"r28","t":0.1,"v":0.85},{"i":"r28","t":0.2,"v":0.95},{"i":"r28","t":0.45,"v":1.05},{"i":"r28","t":1,"v":1.12},{"i":"r28","t":2,"v":1.08},{"i":"r28","t":4,"v":1.0},{"i":"r28","t":8,"v":0.97},{"i":"r28","t":16,"v":0.97},{"i":"r28","t":40,"v":0.96},{"i":"r28","t":100,"v":0.96},{"i":"r28","t":35000,"v":0.96},{"i":"r28","t":50000,"v":0.874},{"i":"r28","t":80000,"v":0.758},{"i":"r28","t":130000,"v":0.672},{"i":"r28","t":250000,"v":0.581},{"i":"r28","t":790000,"v":0.485}
]
},
"layer": [
{
"layer": [
{"data": {"name": "pts"}, "mark": {"type": "point", "filled": false, "clip": true, "size": 50, "strokeWidth": 1},
 "encoding": {
  "x": {"field": "I", "type": "quantitative", "scale": {"domain": [0, 10], "nice": false, "zero": false}, "axis": null},
  "y": {"field": "P", "type": "quantitative", "scale": {"type": "log", "domain": [0.0002, 2], "nice": false}, "axis": null},
  "color": {"field": "s", "type": "nominal", "scale": {"domain": ["Left", "β=0.258; μ=−0.109", "Right", "β=0.253; μ=−0.1"], "range": ["black", "black", "#ff0000", "#ff0000"]},
   "legend": {"title": null, "orient": "none", "legendX": 242, "legendY": 149, "padding": 3, "strokeColor": "black", "fillColor": "white", "labelFontSize": 10, "labelColor": "black", "symbolSize": 45, "symbolStrokeWidth": 1.3, "rowPadding": 0, "labelOffset": 6, "cornerRadius": 0}},
  "shape": {"field": "s", "type": "nominal", "scale": {"domain": ["Left", "β=0.258; μ=−0.109", "Right", "β=0.253; μ=−0.1"], "range": ["circle", "M-2,0L2,0", "M-1,0L1,0M0,-1L0,1M-0.71,-0.71L0.71,0.71M-0.71,0.71L0.71,-0.71", "M-2,0L2,0"]},
   "legend": {"title": null, "orient": "none", "legendX": 242, "legendY": 149, "padding": 3, "strokeColor": "black", "fillColor": "white", "labelFontSize": 10, "labelColor": "black", "symbolSize": 45, "symbolStrokeWidth": 1.3, "rowPadding": 0, "labelOffset": 6, "cornerRadius": 0}}
 }},
{"data": {"name": "fits"}, "mark": {"type": "line", "clip": true, "strokeWidth": 1.5},
 "encoding": {
  "x": {"field": "I", "type": "quantitative", "scale": {"domain": [0, 10], "nice": false, "zero": false}, "axis": null},
  "y": {"field": "P", "type": "quantitative", "scale": {"type": "log", "domain": [0.0002, 2], "nice": false}, "axis": null},
  "color": {"field": "s", "type": "nominal"}
 }},
{"data": {"name": "xM"}, "mark": {"type": "rule", "color": "black", "strokeWidth": 1.3, "y2Offset": -13},
 "encoding": {
  "x": {"field": "v", "type": "quantitative", "scale": {"domain": [0, 10], "nice": false, "zero": false}, "axis": null},
  "y": {"datum": 0.0002, "type": "quantitative", "scale": {"type": "log", "domain": [0.0002, 2], "nice": false}, "axis": null},
  "y2": {"datum": 0.0002}}},
{"data": {"name": "xm"}, "mark": {"type": "rule", "color": "black", "strokeWidth": 1.2, "y2Offset": -7},
 "encoding": {
  "x": {"field": "v", "type": "quantitative", "scale": {"domain": [0, 10], "nice": false, "zero": false}, "axis": null},
  "y": {"datum": 0.0002, "type": "quantitative", "scale": {"type": "log", "domain": [0.0002, 2], "nice": false}, "axis": null},
  "y2": {"datum": 0.0002}}},
{"data": {"name": "yM"}, "mark": {"type": "rule", "color": "black", "strokeWidth": 1.3, "x2Offset": 13},
 "encoding": {
  "y": {"field": "v", "type": "quantitative", "scale": {"type": "log", "domain": [0.0002, 2], "nice": false}, "axis": null},
  "x": {"datum": 0, "type": "quantitative", "scale": {"domain": [0, 10], "nice": false, "zero": false}, "axis": null},
  "x2": {"datum": 0}}},
{"data": {"name": "ym"}, "mark": {"type": "rule", "color": "black", "strokeWidth": 1.2, "x2Offset": 7},
 "encoding": {
  "y": {"field": "v", "type": "quantitative", "scale": {"type": "log", "domain": [0.0002, 2], "nice": false}, "axis": null},
  "x": {"datum": 0, "type": "quantitative", "scale": {"domain": [0, 10], "nice": false, "zero": false}, "axis": null},
  "x2": {"datum": 0}}},
{"data": {"name": "xl"}, "mark": {"type": "text", "fontSize": 20, "color": "black", "align": "center", "baseline": "top", "dy": 5},
 "encoding": {
  "x": {"field": "v", "type": "quantitative", "scale": {"domain": [0, 10], "nice": false, "zero": false}, "axis": null},
  "y": {"datum": 0.0002, "type": "quantitative", "scale": {"type": "log", "domain": [0.0002, 2], "nice": false}, "axis": null},
  "text": {"field": "l", "type": "nominal"}}},
{"data": {"name": "yl"}, "mark": {"type": "text", "fontSize": 20, "color": "black", "align": "right", "baseline": "middle", "dx": -3, "dy": 3},
 "encoding": {
  "y": {"field": "v", "type": "quantitative", "scale": {"type": "log", "domain": [0.0002, 2], "nice": false}, "axis": null},
  "x": {"datum": 0, "type": "quantitative", "scale": {"domain": [0, 10], "nice": false, "zero": false}, "axis": null},
  "text": {"field": "l", "type": "nominal"}}},
{"data": {"values": [{}]}, "mark": {"type": "text", "text": "P(I)", "fontSize": 20, "color": "black", "align": "center", "baseline": "middle", "dx": -32, "dy": 48},
 "encoding": {
  "x": {"datum": 0, "type": "quantitative", "scale": {"domain": [0, 10], "nice": false, "zero": false}, "axis": null},
  "y": {"datum": 2, "type": "quantitative", "scale": {"type": "log", "domain": [0.0002, 2], "nice": false}, "axis": null}}},
{"data": {"values": [{}]}, "mark": {"type": "text", "text": "I", "fontSize": 20, "color": "black", "align": "center", "baseline": "middle", "dy": 14},
 "encoding": {
  "x": {"datum": 7, "type": "quantitative", "scale": {"domain": [0, 10], "nice": false, "zero": false}, "axis": null},
  "y": {"datum": 0.0002, "type": "quantitative", "scale": {"type": "log", "domain": [0.0002, 2], "nice": false}, "axis": null}}}
]
},
{
"layer": [
{"data": {"values": [{}]}, "mark": {"type": "rect", "fill": "white", "stroke": "black", "strokeWidth": 1.5},
 "encoding": {
  "x": {"datum": 0.1, "type": "quantitative", "scale": {"type": "log", "domain": [0.1, 800000], "range": [171, 355], "nice": false}, "axis": null},
  "x2": {"datum": 800000},
  "y": {"datum": 0, "type": "quantitative", "scale": {"domain": [0, 2], "range": [100, 0], "nice": false, "zero": false}, "axis": null},
  "y2": {"datum": 2}
 }},
{"data": {"name": "tM"}, "mark": {"type": "rule", "color": "black", "strokeWidth": 1.3, "y2Offset": -13},
 "encoding": {
  "x": {"field": "v", "type": "quantitative", "scale": {"type": "log", "domain": [0.1, 800000], "range": [171, 355], "nice": false}, "axis": null},
  "y": {"datum": 0, "type": "quantitative", "scale": {"domain": [0, 2], "range": [100, 0], "nice": false, "zero": false}, "axis": null},
  "y2": {"datum": 0}}},
{"data": {"name": "tm"}, "mark": {"type": "rule", "color": "black", "strokeWidth": 1.2, "y2Offset": -7},
 "encoding": {
  "x": {"field": "v", "type": "quantitative", "scale": {"type": "log", "domain": [0.1, 800000], "range": [171, 355], "nice": false}, "axis": null},
  "y": {"datum": 0, "type": "quantitative", "scale": {"domain": [0, 2], "range": [100, 0], "nice": false, "zero": false}, "axis": null},
  "y2": {"datum": 0}}},
{"data": {"name": "vM"}, "mark": {"type": "rule", "color": "black", "strokeWidth": 1.3, "x2Offset": 13},
 "encoding": {
  "y": {"field": "v", "type": "quantitative", "scale": {"domain": [0, 2], "range": [100, 0], "nice": false, "zero": false}, "axis": null},
  "x": {"datum": 0.1, "type": "quantitative", "scale": {"type": "log", "domain": [0.1, 800000], "range": [171, 355], "nice": false}, "axis": null},
  "x2": {"datum": 0.1}}},
{"data": {"name": "vm"}, "mark": {"type": "rule", "color": "black", "strokeWidth": 1.2, "x2Offset": 7},
 "encoding": {
  "y": {"field": "v", "type": "quantitative", "scale": {"domain": [0, 2], "range": [100, 0], "nice": false, "zero": false}, "axis": null},
  "x": {"datum": 0.1, "type": "quantitative", "scale": {"type": "log", "domain": [0.1, 800000], "range": [171, 355], "nice": false}, "axis": null},
  "x2": {"datum": 0.1}}},
{"data": {"name": "blk"}, "mark": {"type": "line", "color": "black", "strokeWidth": 1, "interpolate": "monotone"},
 "encoding": {
  "x": {"field": "t", "type": "quantitative", "scale": {"type": "log", "domain": [0.1, 800000], "range": [171, 355], "nice": false}, "axis": null},
  "y": {"field": "v", "type": "quantitative", "scale": {"domain": [0, 2], "range": [100, 0], "nice": false, "zero": false}, "axis": null},
  "detail": {"field": "i"}}},
{"data": {"name": "red"}, "mark": {"type": "line", "color": "#ff0000", "strokeWidth": 1, "interpolate": "monotone"},
 "encoding": {
  "x": {"field": "t", "type": "quantitative", "scale": {"type": "log", "domain": [0.1, 800000], "range": [171, 355], "nice": false}, "axis": null},
  "y": {"field": "v", "type": "quantitative", "scale": {"domain": [0, 2], "range": [100, 0], "nice": false, "zero": false}, "axis": null},
  "detail": {"field": "i"}}},
{"data": {"name": "blu"}, "mark": {"type": "line", "color": "#0000ff", "strokeWidth": 1, "interpolate": "monotone"},
 "encoding": {
  "x": {"field": "t", "type": "quantitative", "scale": {"type": "log", "domain": [0.1, 800000], "range": [171, 355], "nice": false}, "axis": null},
  "y": {"field": "v", "type": "quantitative", "scale": {"domain": [0, 2], "range": [100, 0], "nice": false, "zero": false}, "axis": null},
  "detail": {"field": "i"}}},
{"data": {"name": "grn"}, "mark": {"type": "rule", "color": "#33dd33", "strokeWidth": 1.5, "strokeDash": [7, 4]},
 "encoding": {
  "x": {"datum": 0.1, "type": "quantitative", "scale": {"type": "log", "domain": [0.1, 800000], "range": [171, 355], "nice": false}, "axis": null},
  "x2": {"datum": 800000},
  "y": {"field": "v", "type": "quantitative", "scale": {"domain": [0, 2], "range": [100, 0], "nice": false, "zero": false}, "axis": null}}},
{"data": {"name": "tl"}, "mark": {"type": "text", "fontSize": 20, "color": "black", "align": "center", "baseline": "top", "dy": 5},
 "encoding": {
  "x": {"field": "v", "type": "quantitative", "scale": {"type": "log", "domain": [0.1, 800000], "range": [171, 355], "nice": false}, "axis": null},
  "y": {"datum": 0, "type": "quantitative", "scale": {"domain": [0, 2], "range": [100, 0], "nice": false, "zero": false}, "axis": null},
  "text": {"field": "l", "type": "nominal"}}},
{"data": {"name": "vl"}, "mark": {"type": "text", "fontSize": 20, "color": "black", "align": "right", "baseline": "middle", "dx": -3},
 "encoding": {
  "y": {"field": "v", "type": "quantitative", "scale": {"domain": [0, 2], "range": [100, 0], "nice": false, "zero": false}, "axis": null},
  "x": {"datum": 0.1, "type": "quantitative", "scale": {"type": "log", "domain": [0.1, 800000], "range": [171, 355], "nice": false}, "axis": null},
  "text": {"field": "l", "type": "nominal"}}},
{"data": {"values": [{}]}, "mark": {"type": "text", "text": "t", "fontSize": 20, "color": "black", "align": "center", "baseline": "middle", "dx": 1, "dy": 20},
 "encoding": {
  "x": {"datum": 1000, "type": "quantitative", "scale": {"type": "log", "domain": [0.1, 800000], "range": [171, 355], "nice": false}, "axis": null},
  "y": {"datum": 0, "type": "quantitative", "scale": {"domain": [0, 2], "range": [100, 0], "nice": false, "zero": false}, "axis": null}}},
{"data": {"values": [{}]}, "mark": {"type": "text", "text": "<Iₙ>", "fontSize": 20, "color": "black", "align": "center", "baseline": "middle", "angle": 270, "xOffset": -50, "yOffset": 34},
 "encoding": {
  "x": {"datum": 0.1, "type": "quantitative", "scale": {"type": "log", "domain": [0.1, 800000], "range": [171, 355], "nice": false}, "axis": null},
  "y": {"datum": 2, "type": "quantitative", "scale": {"domain": [0, 2], "range": [100, 0], "nice": false, "zero": false}, "axis": null}}}
]
}
],
"resolve": {"scale": {"x": "independent", "y": "independent"}, "axis": {"x": "independent", "y": "independent"}}
}
